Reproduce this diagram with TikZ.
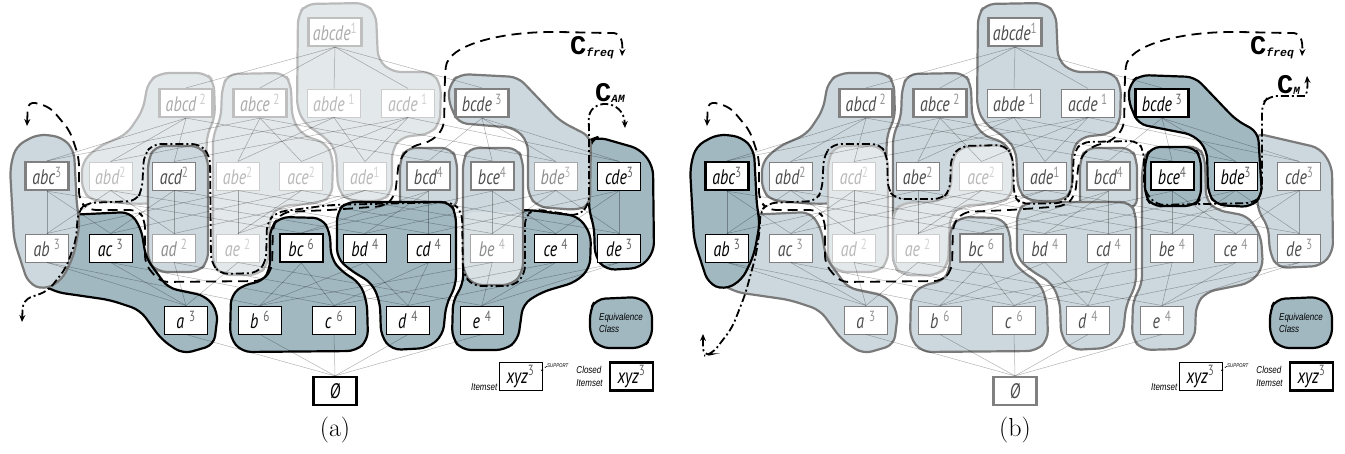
\documentclass[tikz,border=0pt]{standalone}
\usepackage{fontspec}
\usetikzlibrary{arrows.meta, positioning, calc}
\newfontfamily\itemfont{PT Sans}[FakeStretch=0.76]
\newfontfamily\legfont{Liberation Sans}[FakeStretch=0.8]
\newfontfamily\consfont{Liberation Mono}
\definecolor{eqdark}{RGB}{161,184,193}
\definecolor{eqmid}{RGB}{205,216,222}
\definecolor{eqlite}{RGB}{227,232,235}
\newcommand{\spt}[1]{\textsuperscript{\upshape\color{.!60}#1}}
\tikzset{
  itm/.style={draw, fill=white, minimum width=43pt, minimum height=28pt,
    inner sep=1pt, font=\itemfont\itshape\fontsize{21}{21}\selectfont},
  wide/.style={minimum width=53pt},
  cls/.style={itm, line width=2.2pt},
  pln/.style={itm, line width=1pt},
  clsg/.style={cls, draw=black!50, text=black!70},
  plng/.style={pln, draw=black!50, text=black!70},
  plnh/.style={pln, draw=black!35, text=black!45},
  clsf/.style={cls, draw=black!25, text=black!33},
  plnf/.style={pln, draw=black!20, text=black!28},
  blobD/.style={fill=eqdark, draw=black, line width=2.2pt, rounded corners=9pt},
  blobM/.style={fill=eqmid, draw=black!52, line width=2.2pt, rounded corners=9pt},
  blobL/.style={fill=eqlite, draw=black!27, line width=2.2pt, rounded corners=9pt},
  lnk/.style={draw=black, draw opacity=0.3, line width=0.5pt},
  cfreq/.style={line width=1.8pt, dash pattern=on 10pt off 6pt, rounded corners=8pt},
  cam/.style={line width=1.8pt, dash pattern=on 8pt off 3pt on 2pt off 3pt, rounded corners=8pt},
  legtxt/.style={font=\legfont\itshape\fontsize{10}{12.5}\selectfont, inner sep=0pt},
  ctxt/.style={font=\consfont\bfseries\fontsize{27}{27}\selectfont, inner sep=0pt},
}
% equivalence classes shared by both panels
\newcommand{\eqABCD}[1]{\draw[#1] (82,162) -- (98,147) -- (127,134) -- (143,110) -- (148,82) -- (160,73) -- (206,73) -- (214,82) -- (215,118) -- (207,134) -- (205,200) -- (140,204) -- (92,201) -- (82,190) -- cycle;}
\newcommand{\eqABCE}[1]{\draw[#1] (221,118) -- (222,88) -- (228,74) -- (284,73) -- (291,84) -- (292,118) -- (302,135) -- (326,143) -- (333,158) -- (332,196) -- (320,203) -- (280,206) -- (270,216) -- (268,265) -- (258,275) -- (222,275) -- (213,265) -- (213,135) -- cycle;}
\newcommand{\eqABCDE}[1]{\draw[#1] (297,108) -- (298,15) -- (306,4) -- (365,3) -- (376,14) -- (378,60) -- (392,72) -- (432,72) -- (441,85) -- (440,123) -- (430,134) -- (401,137) -- (392,150) -- (392,192) -- (382,201) -- (348,201) -- (338,190) -- (336,150) -- (326,138) -- (305,124) -- cycle;}
\newcommand{\eqACD}[1]{\draw[#1] (148,160) -- (155,146) -- (200,146) -- (208,158) -- (208,262) -- (198,272) -- (158,272) -- (148,262) -- cycle;}
\newcommand{\eqAC}[1]{\draw[#1] (42,284) -- (46,216) -- (130,212) -- (141,228) -- (146,258) -- (168,288) -- (206,296) -- (218,312) -- (214,345) -- (183,354) -- (162,340) -- (140,310) -- (110,300) -- (55,292) -- cycle;}
\newcommand{\eqABC}[1]{\draw[#1] (10,168) -- (16,146) -- (38,134) -- (62,137) -- (74,150) -- (77,208) -- (80,222) -- (74,255) -- (62,280) -- (44,290) -- (28,283) -- (14,240) -- cycle;}
\newcommand{\eqBC}[1]{\draw[#1] (270,228) -- (280,217) -- (322,218) -- (330,232) -- (331,258) -- (341,271) -- (360,283) -- (367,302) -- (368,340) -- (356,351) -- (242,352) -- (230,338) -- (231,295) -- (245,284) -- (262,282) -- (270,270) -- cycle;}
\newcommand{\eqBD}[1]{\draw[#1] (337,212) -- (346,202) -- (450,202) -- (456,214) -- (456,285) -- (446,305) -- (443,335) -- (428,348) -- (392,350) -- (381,336) -- (380,302) -- (372,283) -- (350,270) -- (337,258) -- cycle;}
\newcommand{\eqBCD}[1]{\draw[#1] (400,160) -- (406,148) -- (451,148) -- (457,160) -- (457,208) -- (400,208) -- cycle;}
\newcommand{\freqcurve}{\draw[cfreq, <->] (27,126) -- (28,101) -- (50,107) -- (70,131) -- (79,158) -- (79,200) -- (88,210) -- (138,210) -- (145,220) -- (145,264) -- (160,282) -- (262,281) -- (272,270) -- (273,224) -- (283,212) -- (330,210) -- (385,206) -- (395,196) -- (399,160) -- (410,147) -- (432,141) -- (444,128) -- (445,75) .. controls (448,45) and (500,32) .. (560,32) -- (606,33) .. controls (620,33) and (623,40) .. (622,56);}
% itemset lattice: prefix, top, 4-sets, 3-sets, 2-sets, 1-sets, empty set
\newcommand{\lattice}[7]{%
  \node[#2, wide] (#1abcde) at (335,32) {abcde\spt{1}};
  \foreach \n/\q/\s [count=\i from 0] in {#3}
    \node[\s, wide] (#1\n) at (186+74*\i,103) {\n\,\spt{\q}};
  \foreach \n/\q/\s [count=\i from 0] in {#4}
    \node[\s] (#1\n) at (47+63.6*\i,176) {\n\spt{\q}};
  \foreach \n/\q/\s [count=\i from 0] in {#5}
    \node[\s] (#1\n) at (47+63.6*\i,248) {\n\ \spt{\q}};
  \foreach \n/\q/\s [count=\i from 0] in {#6}
    \node[\s] (#1\n) at (186+74*\i,320) {\n\hspace{5pt}\spt{\q}};
  \node[#7] (#1empty) at (335,391) {Ø};
  \foreach \u/\ls in {abcde/{abcd,abce,abde,acde,bcde},
      abcd/{abc,abd,acd,bcd}, abce/{abc,abe,ace,bce}, abde/{abd,abe,ade,bde},
      acde/{acd,ace,ade,cde}, bcde/{bcd,bce,bde,cde},
      abc/{ab,ac,bc}, abd/{ab,ad,bd}, acd/{ac,ad,cd}, abe/{ab,ae,be}, ace/{ac,ae,ce},
      ade/{ad,ae,de}, bcd/{bc,bd,cd}, bce/{bc,be,ce}, bde/{bd,be,de}, cde/{cd,ce,de},
      ab/{a,b}, ac/{a,c}, ad/{a,d}, ae/{a,e}, bc/{b,c}, bd/{b,d}, cd/{c,d},
      be/{b,e}, ce/{c,e}, de/{d,e}, a/{empty}, b/{empty}, c/{empty}, d/{empty}, e/{empty}}
    \foreach \l in \ls \draw[lnk] (#1\u.south) -- (#1\l.north);
}
% legend: equivalence class, itemset, closed itemset
\newcommand{\eqkey}[1]{%
  \draw[blobD] (590,310) -- (596,299) -- (640,297) -- (652,309) -- (652,338) -- (642,348) -- (600,348) -- (590,336) -- cycle;
  \node[legtxt, align=left, anchor=west] (#1eqtxt) at (599,323) {Equivalence\\Class};
  \node[pln] (#1xyz) at (520.5,376.5) {xyz\spt{3}};
  \node[legtxt, anchor=south east] (#1itxt) at ([xshift=-1pt]#1xyz.south west) {Itemset};
  \node[legtxt, font=\legfont\itshape\fontsize{5.5}{5.5}\selectfont, anchor=west] (#1sup) at (547,366) {SUPPORT};
  \coordinate (#1supend) at (541,371);
  \draw[densely dashed, line width=0.5pt, -{Stealth[length=2.5pt]}] (#1sup.west) -- (#1supend);
  \node[cls] (#1cxyz) at (631.5,376.5) {xyz\spt{3}};
  \node[legtxt, align=left, anchor=east] (#1ctxt) at ([xshift=-6pt]#1cxyz.west) {Closed\\Itemset};
}
\begin{document}
\begin{tikzpicture}[x=1pt, y=-1pt, >={Stealth[length=7pt, width=6pt]}]
  \useasboundingbox (0,0) rectangle (1345,453);
  % ---------- (a)
  \begin{scope}
    \eqABCD{blobL} \eqABCE{blobL} \eqABCDE{blobL}
    \eqACD{blobM}
    \eqAC{blobD} \eqABC{blobM}
    \eqBC{blobD} \eqBCD{blobM} \eqBD{blobD}
    \draw[blobD] (464,222) -- (471,211) -- (530,210) -- (578,216) -- (591,234) -- (590,268) -- (576,282) -- (542,292) -- (523,304) -- (518,340) -- (505,350) -- (462,350) -- (452,338) -- (453,300) -- (463,285) -- cycle;
    \draw[blobM] (463,160) -- (469,148) -- (517,148) -- (523,160) -- (523,272) -- (512,285) -- (473,285) -- (463,272) -- cycle;
    \fill[eqlite!55!eqmid, rounded corners=9pt] (464.5,212) -- (521.5,212) -- (521.5,271) -- (512,283.5) -- (474,283.5) -- (464.5,271) -- cycle;
    \draw[blobD] (589,212) -- (590,140) -- (598,137) -- (640,149) -- (653,166) -- (654,252) -- (640,268) -- (606,270) -- (595,257) -- (594,225) -- cycle;
    \draw[blobM] (448,100) -- (450,83) -- (460,74) -- (518,77) -- (560,121) -- (591,137) -- (590,205) -- (578,210) -- (538,207) -- (528,195) -- (528,142) -- (515,128) -- (458,123) -- cycle;
    \lattice{A}{clsf}
      {abcd/2/clsf, abce/2/clsf, abde/1/plnf, acde/1/plnf, bcde/3/clsg}
      {abc/3/clsg, abd/2/plnf, acd/2/plng, abe/2/plnf, ace/2/plnf, ade/1/plnf, bcd/4/clsg, bce/4/clsg, bde/3/plnh, cde/3/pln}
      {ab/3/plng, ac/3/pln, ad/2/plnh, ae/2/plnf, bc/6/cls, bd/4/pln, cd/4/pln, be/4/plnh, ce/4/pln, de/3/pln}
      {a/3/pln, b/6/pln, c/6/pln, d/4/pln, e/4/pln}
      {cls}
    \freqcurve
    \draw[cam, <->] (22,322) -- (23,300) -- (48,291) -- (66,268) -- (76,240) -- (78,212) -- (86,203) -- (136,201) -- (142,190) -- (144,155) -- (153,144) -- (200,144) -- (210,156) -- (211,262) -- (220,274) -- (257,273) -- (266,262) -- (267,222) -- (277,212) -- (330,205) -- (452,202) -- (462,212) -- (463,274) -- (473,286) -- (514,286) -- (525,274) -- (525,216) -- (535,209) -- (578,216) -- (589,205) -- (589,128) .. controls (588,98) and (624,98) .. (625,128);
    \node[ctxt, anchor=base west] (cfreqA) at (570,54) {C\raisebox{-2pt}{\fontsize{11.5}{11.5}\selectfont\itshape freq}};
    \node[ctxt, anchor=base west] (camA) at (595,101) {C\raisebox{-1pt}{\fontsize{11}{11}\selectfont\itshape AM}};
    \eqkey{A}
    \node[font=\fontsize{26}{26}\selectfont] (capA) at (335,430) {(a)};
  \end{scope}
  % ---------- (b)
  \begin{scope}[xshift=680pt]
    \eqABCD{blobM} \eqABCE{blobM} \eqABCDE{blobM}
    \draw[blobL] (272,160) -- (280,147) -- (325,145) -- (333,157) -- (332,196) -- (320,203) -- (280,206) -- (270,216) -- (268,265) -- (258,275) -- (222,275) -- (213,265) -- (213,212) -- (222,203) -- (262,201) -- (271,190) -- cycle;
    \eqACD{blobL}
    \eqAC{blobM} \eqABC{blobD}
    \eqBC{blobM} \eqBCD{blobM} \eqBD{blobM}
    \draw[blobM] (462,170) -- (466,150) -- (518,146) -- (525,158) -- (526,200) -- (536,210) -- (568,216) -- (581,236) -- (583,268) -- (570,283) -- (526,292) -- (516,305) -- (515,338) -- (502,349) -- (462,350) -- (452,338) -- (453,300) -- (462,285) -- cycle;
    \draw[blobD] (465,160) -- (471,147) -- (514,147) -- (521,158) -- (521,198) -- (514,206) -- (472,206) -- (465,196) -- cycle;
    \draw[blobM] (575,133) -- (640,148) -- (652,166) -- (653,252) -- (641,266) -- (598,268) -- (590,254) -- (588,225) -- (578,212) -- cycle;
    \draw[blobD] (448,100) -- (450,83) -- (460,75) -- (515,77) -- (556,120) -- (578,132) -- (582,196) -- (571,207) -- (536,205) -- (528,193) -- (527,150) -- (514,135) -- (458,124) -- cycle;
    \lattice{B}{clsg}
      {abcd/2/clsg, abce/2/clsg, abde/1/plng, acde/1/plng, bcde/3/cls}
      {abc/3/cls, abd/2/plng, acd/2/plnf, abe/2/plng, ace/2/plnf, ade/1/plng, bcd/4/clsg, bce/4/cls, bde/3/pln, cde/3/plng}
      {ab/3/pln, ac/3/plng, ad/2/plnf, ae/2/plnf, bc/6/clsg, bd/4/plng, cd/4/plng, be/4/plng, ce/4/plng, de/3/plng}
      {a/3/plng, b/6/plng, c/6/plng, d/4/plng, e/4/plng}
      {clsg}
    \freqcurve
    \draw[cam, <->] (23,334) -- (23,356) -- (32,354) -- (52,328) -- (65,295) -- (76,255) -- (80,228) -- (80,212) -- (88,203) -- (136,201) -- (142,190) -- (144,155) -- (153,144) -- (200,144) -- (207,155) -- (208,190) -- (216,199) -- (262,199) -- (270,190) -- (271,157) -- (281,146) -- (325,145) -- (333,157) -- (334,196) -- (341,204) -- (384,203) -- (392,190) -- (394,152) -- (402,142) -- (458,141) -- (464,152) -- (464,190) -- (476,205) -- (574,203) -- (582,195) -- (582,104) -- (589,96) -- (617,96) .. controls (626,96) and (628,90) .. (627,76);
    \node[ctxt, anchor=base west] (cfreqB) at (570,54) {C\raisebox{-2pt}{\fontsize{11.5}{11.5}\selectfont\itshape freq}};
    \node[ctxt, anchor=base west] (cmB) at (597,93) {C\raisebox{-1pt}{\fontsize{11}{11}\selectfont\itshape M}};
    \eqkey{B}
    \node[font=\fontsize{26}{26}\selectfont] (capB) at (335,430) {(b)};
  \end{scope}
\end{tikzpicture}
\end{document}
